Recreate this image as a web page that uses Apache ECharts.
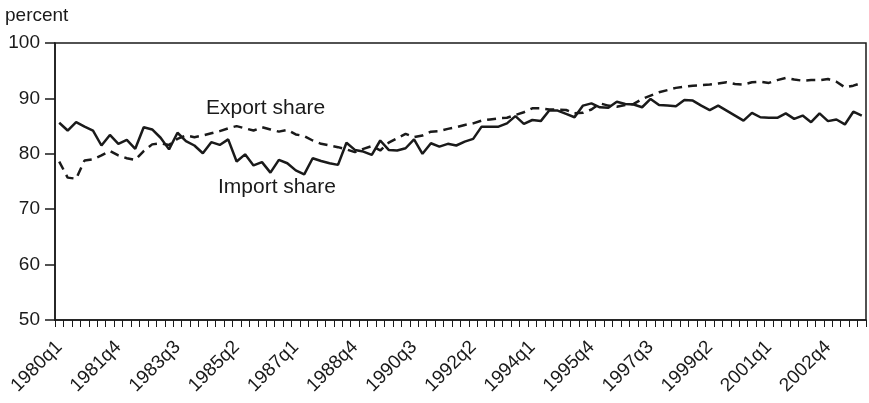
<!DOCTYPE html>
<html>
<head>
<meta charset="utf-8">
<title>Export and import share</title>
<script src="https://cdn.jsdelivr.net/npm/echarts@6/dist/echarts.min.js"></script>
<style>
  html, body { margin: 0; padding: 0; background: #fff; }
  #box { width: 869px; height: 403px; }
</style>
</head>
<body>
<div id="box"></div>
<script>
// quarters 1980q1 .. 2003q4
var quarters = [];
for (var y = 1980; y <= 2003; y++) {
  for (var q = 1; q <= 4; q++) quarters.push(y + 'q' + q);
}

// import share, percent
var importShare = [
  85.6, 84.2, 85.7, 84.9, 84.2, 81.5, 83.4, 81.8, 82.5, 80.9, 84.8, 84.4,
  82.9, 80.8, 83.8, 82.3, 81.5, 80.1, 82.1, 81.6, 82.6, 78.6, 79.9, 77.9,
  78.5, 76.6, 78.9, 78.3, 77.0, 76.3, 79.2, 78.7, 78.3, 78.0, 82.0, 80.7,
  80.4, 79.8, 82.4, 80.7, 80.6, 81.0, 82.6, 80.0, 81.9, 81.3, 81.8, 81.5,
  82.2, 82.7, 84.9, 84.9, 84.9, 85.5, 86.8, 85.4, 86.1, 85.9, 87.8, 87.8,
  87.2, 86.6, 88.7, 89.1, 88.4, 88.3, 89.4, 89.0, 88.9, 88.4, 89.9, 88.8,
  88.7, 88.6, 89.7, 89.6, 88.7, 87.9, 88.7, 87.8, 86.9, 86.0, 87.4, 86.6,
  86.5, 86.5, 87.3, 86.3, 86.9, 85.7, 87.3, 85.9, 86.2, 85.3, 87.6, 86.9
];

// export share, percent
var exportShare = [
  78.6, 75.7, 75.5, 78.8, 79.0, 79.7, 80.5, 79.7, 79.2, 78.9, 80.5, 81.7,
  81.9, 81.6, 82.7, 83.3, 83.0, 83.3, 83.7, 84.1, 84.6, 85.0, 84.6, 84.2,
  84.8, 84.4, 84.0, 84.3, 83.5, 83.2, 82.4, 81.8, 81.5, 81.2, 80.8, 80.3,
  80.9, 81.4, 80.6, 82.0, 82.8, 83.6, 83.0, 83.3, 84.0, 84.1, 84.5, 84.8,
  85.2, 85.5, 86.0, 86.2, 86.4, 86.5, 87.0, 87.5, 88.2, 88.2, 88.0, 88.0,
  87.9, 87.3, 87.4, 88.0, 89.1, 88.7, 88.5, 88.8, 89.0, 89.9, 90.5, 91.1,
  91.5, 91.9, 92.1, 92.3, 92.4, 92.5, 92.7, 92.9, 92.6, 92.5, 92.9, 93.0,
  92.8, 93.3, 93.7, 93.4, 93.2, 93.3, 93.3, 93.5, 93.0, 92.0, 92.3, 92.8
];

var yTicks = [50, 60, 70, 80, 90, 100];

var ink = '#1a1a1a';
var font = 'Liberation Sans, Arial, sans-serif';

var myChart = echarts.init(document.getElementById('box'));
var option = {
  animation: false,
  backgroundColor: '#fff',
  grid: {
    left: 55, right: 3, top: 43, bottom: 83,
    show: true, borderColor: ink, borderWidth: 1.5
  },
  xAxis: {
    type: 'category',
    data: quarters,
    boundaryGap: true,
    axisLine: { lineStyle: { color: ink, width: 1.5 } },
    axisTick: { show: true, interval: 0, length: 7, lineStyle: { color: ink, width: 1 } },
    axisLabel: {
      interval: 6, rotate: 45, margin: 24,
      color: ink, fontSize: 19, fontFamily: font
    },
    splitLine: { show: false }
  },
  yAxis: {
    type: 'value',
    min: yTicks[0], max: yTicks[yTicks.length - 1], interval: 10,
    axisLine: { show: true, lineStyle: { color: ink, width: 1.5 } },
    axisTick: { show: true, length: 10, lineStyle: { color: ink, width: 1.5 } },
    axisLabel: { margin: 15, color: ink, fontSize: 19, fontFamily: font },
    splitLine: { show: false }
  },
  graphic: [
    { type: 'text', left: 5, top: 6,
      style: { text: 'percent', fill: ink, fontSize: 19, fontFamily: font } },
    { type: 'text', left: 206, top: 98,
      style: { text: 'Export share', fill: ink, fontSize: 21, fontFamily: font } },
    { type: 'text', left: 218, top: 177,
      style: { text: 'Import share', fill: ink, fontSize: 21, fontFamily: font } }
  ],
  series: [
    {
      name: 'Import share', type: 'line', data: importShare,
      symbol: 'none', lineStyle: { color: ink, width: 2.5, type: 'solid' }
    },
    {
      name: 'Export share', type: 'line', data: exportShare,
      symbol: 'none', lineStyle: { color: ink, width: 2.5, type: [9, 6] }
    }
  ]
};
myChart.setOption(option);
</script>
</body>
</html>
